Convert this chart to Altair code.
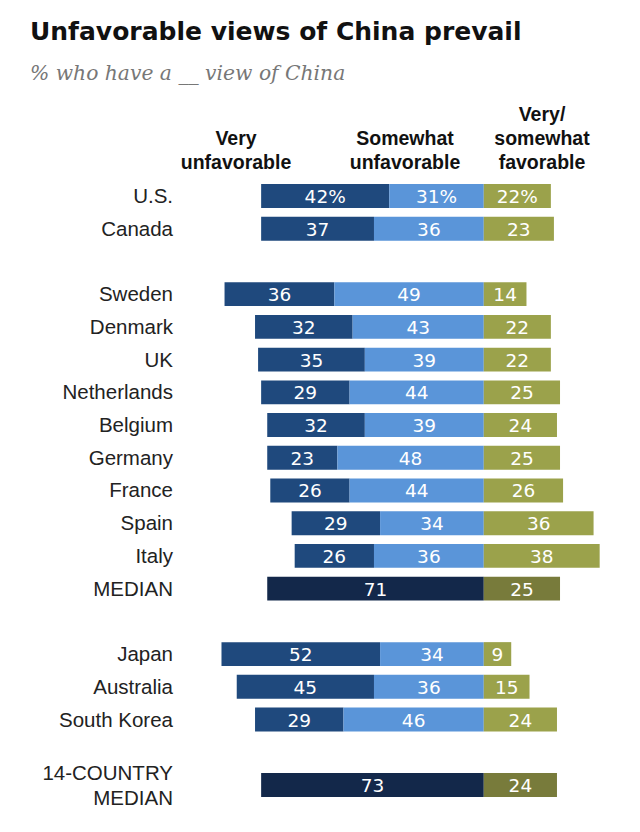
import altair as alt
import pandas as pd

countries = ["U.S.", "Canada", "Sweden", "Denmark", "UK", "Netherlands", "Belgium",
             "Germany", "France", "Spain", "Italy", "Japan", "Australia", "South Korea"]
very_unfav = [42, 37, 36, 32, 35, 29, 32, 23, 26, 29, 26, 52, 45, 29]
somewhat_unfav = [31, 36, 49, 43, 39, 44, 39, 48, 44, 34, 36, 34, 36, 46]
favorable = [22, 23, 14, 22, 22, 25, 24, 25, 26, 36, 38, 9, 15, 24]

medians = ["MEDIAN", "14-COUNTRY\nMEDIAN"]
median_unfav = [71, 73]
median_fav = [25, 24]

row_order = ["U.S.", "Canada", "sp1", "Sweden", "Denmark", "UK", "Netherlands", "Belgium",
             "Germany", "France", "Spain", "Italy", "MEDIAN", "sp2", "Japan", "Australia",
             "South Korea", "sp3", "14-COUNTRY\nMEDIAN"]

rows = []
for i, c in enumerate(countries):
    vu, su, fv = very_unfav[i], somewhat_unfav[i], favorable[i]
    pct = "%" if c == "U.S." else ""
    rows.append(dict(row=c, seg="vu", x=-(vu + su), x2=-su, label=f"{vu}{pct}"))
    rows.append(dict(row=c, seg="su", x=-su, x2=0, label=f"{su}{pct}"))
    rows.append(dict(row=c, seg="fv", x=0, x2=fv, label=f"{fv}{pct}"))
for i, m in enumerate(medians):
    rows.append(dict(row=m, seg="mu", x=-median_unfav[i], x2=0, label=str(median_unfav[i])))
    rows.append(dict(row=m, seg="mf", x=0, x2=median_fav[i], label=str(median_fav[i])))
df = pd.DataFrame(rows)
df["mid"] = (df["x"] + df["x2"]) / 2

single_df = pd.DataFrame({"row": countries + ["MEDIAN"]})
multi_df = pd.DataFrame({"row": ["14-COUNTRY\nMEDIAN"]})

W, H = 624, 816
step = 32.72
y0 = 188 - step / 2
yscale = alt.Scale(domain=row_order, range=[y0, y0 + step * len(row_order)],
                   paddingInner=0.27, paddingOuter=0.135)
xscale = alt.Scale(domain=[-156, 48.6], range=[0, W])

seg_colors = alt.Scale(domain=["vu", "su", "fv", "mu", "mf"],
                       range=["#1f497d", "#5a95d9", "#9ba24b", "#13284a", "#787b3b"])

base = alt.Chart(df)
bars = base.mark_bar().encode(
    x=alt.X("x:Q", scale=xscale, axis=None),
    x2="x2:Q",
    y=alt.Y("row:N", scale=yscale, axis=None),
    color=alt.Color("seg:N", scale=seg_colors, legend=None),
)
vals = base.mark_text(color="white", fontSize=18.5, font="DejaVu Sans",
                      baseline="middle", align="center", dy=1).encode(
    x=alt.X("mid:Q", scale=xscale),
    y=alt.Y("row:N", scale=yscale),
    text="label:N",
)
names = alt.Chart(single_df).mark_text(
    align="right", baseline="middle", fontSize=20.5, font="Liberation Sans",
    color="#222222", dy=1).encode(
    x=alt.value(165),
    y=alt.Y("row:N", scale=yscale),
    text="row:N",
)
names2 = alt.Chart(multi_df).mark_text(
    align="right", baseline="middle", fontSize=20.5, font="Liberation Sans",
    color="#222222", lineBreak="\n", lineHeight=25, dy=-11).encode(
    x=alt.value(165),
    y=alt.Y("row:N", scale=yscale),
    text="row:N",
)

headers_df = pd.DataFrame({
    "text": ["Very\nunfavorable", "Somewhat\nunfavorable", "Very/\nsomewhat\nfavorable"],
    "px": [228, 397, 534],
    "py": [137, 137, 113],
})
headers = alt.Chart(headers_df).mark_text(
    align="center", baseline="alphabetic", fontSize=19.5, fontWeight="bold",
    font="Liberation Sans", color="#111111", lineBreak="\n", lineHeight=24).encode(
    x=alt.X("px:Q", scale=None),
    y=alt.Y("py:Q", scale=None),
    text="text:N",
)

title_df = pd.DataFrame({"t": ["Unfavorable views of China prevail"]})
title = alt.Chart(title_df).mark_text(
    align="left", baseline="alphabetic", fontSize=25, fontWeight="bold",
    font="DejaVu Sans", color="#111111").encode(
    x=alt.value(22), y=alt.value(32), text="t:N")
sub_df = pd.DataFrame({"t": ["% who have a __ view of China"]})
subtitle = alt.Chart(sub_df).mark_text(
    align="left", baseline="alphabetic", fontSize=20.3, fontStyle="italic",
    font="DejaVu Serif", color="#777777").encode(
    x=alt.value(22), y=alt.value(72), text="t:N")

chart = alt.layer(bars, vals, names, names2, headers, title, subtitle).properties(
    width=W, height=H, padding=0, autosize=alt.AutoSizeParams(type="none"),
).configure_view(stroke=None)

chart.save("out.html", embed_options={"renderer": "svg", "actions": False})
